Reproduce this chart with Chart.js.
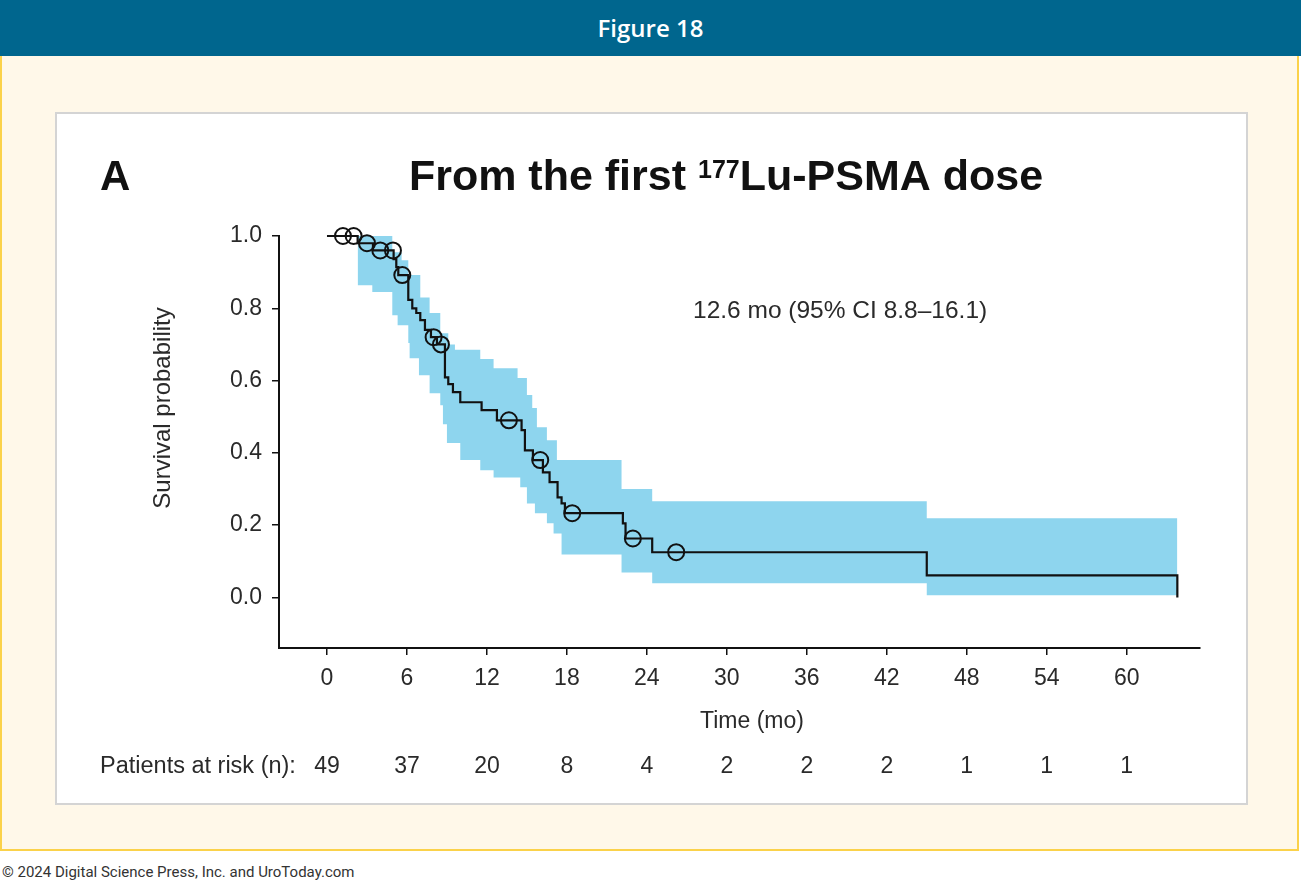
<!DOCTYPE html>
<html>
<head>
<meta charset="utf-8">
<title>Figure 18</title>
<script src="https://cdn.jsdelivr.net/npm/chart.js@4.4.1/dist/chart.umd.min.js"></script>
<style>
  html, body { margin: 0; padding: 0; background: #fff; }
  body { width: 1301px; height: 884px; position: relative; overflow: hidden; }
  #header {
    position: absolute; left: 0; top: 0; width: 1301px; height: 56px;
    background: #00668e; color: #fff; text-align: center;
    font: 600 24px "Open Sans", sans-serif; line-height: 56px;
  }
  #frame {
    position: absolute; left: 0; top: 56px; width: 1299px; height: 795px;
    box-sizing: border-box; background: #fff8e9;
    border: 2px solid #fbd24a; border-top: none;
  }
  #panel {
    position: absolute; left: 55px; top: 112px; width: 1193px; height: 693px;
    box-sizing: border-box; background: #fff; border: 2px solid #d4d4d4;
  }
  #km { position: absolute; left: 57px; top: 114px; }
  #footer {
    position: absolute; left: 2px; top: 863px; color: #333;
    font: 15px Roboto, sans-serif;
  }
</style>
</head>
<body>
<div id="header">Figure 18</div>
<div id="frame"></div>
<div id="panel"></div>
<canvas id="km" width="1189" height="689"></canvas>
<div id="footer">© 2024 Digital Science Press, Inc. and UroToday.com</div>

<script>
// Kaplan-Meier estimate (months, survival probability), value holds from each time on
const kmTimes = [0, 2.3, 3.45, 5.0, 5.2, 5.35, 6.1, 6.4, 6.7, 7.0, 7.35, 7.8, 8.25, 8.85, 9.1, 9.45,
  10.0, 11.6, 12.75, 14.6, 14.85, 15.45, 16.2, 16.7, 17.3, 17.6, 17.85, 22.2, 22.4, 24.4, 45.0, 63.8];
const kmSurv = [1.0, 0.98, 0.96, 0.936, 0.914, 0.892, 0.823, 0.80, 0.787, 0.767, 0.74, 0.72, 0.70, 0.609, 0.59, 0.568,
  0.54, 0.518, 0.49, 0.463, 0.407, 0.38, 0.346, 0.319, 0.277, 0.26, 0.233, 0.205, 0.163, 0.125, 0.061, 0.0];

// censored patients
const censorTimes = [1.2, 2.0, 3.0, 4.0, 4.95, 5.65, 8.0, 8.55, 13.65, 16.0, 18.4, 22.95, 26.2];
const censorSurv = [1.0, 1.0, 0.98, 0.96, 0.96, 0.892, 0.72, 0.70, 0.49, 0.38, 0.233, 0.163, 0.125];

// 95% confidence band
const bandTimes = [2.3, 3.4, 4.9, 5.3, 5.6, 6.1, 6.2, 6.9, 7.0, 7.7, 8.5, 8.7, 9.0, 9.1, 9.6, 10.0,
  11.5, 12.5, 14.3, 14.5, 15.0, 15.4, 15.6, 15.75, 16.5, 17.0, 17.25, 17.6, 22.1, 24.4, 45.0, 63.8];
const bandUpper = [1.0, 1.0, 0.955, 0.955, 0.933, 0.892, 0.892, 0.892, 0.83, 0.787, 0.731, 0.731, 0.731, 0.70, 0.685, 0.685,
  0.66, 0.634, 0.607, 0.607, 0.56, 0.524, 0.524, 0.471, 0.435, 0.435, 0.38, 0.38, 0.30, 0.266, 0.219, 0.219];
const bandLower = [0.864, 0.845, 0.781, 0.753, 0.753, 0.704, 0.662, 0.615, 0.615, 0.565, 0.532, 0.479, 0.427, 0.427, 0.427, 0.38,
  0.352, 0.332, 0.332, 0.305, 0.26, 0.26, 0.233, 0.233, 0.205, 0.177, 0.177, 0.119, 0.069, 0.039, 0.006, 0.006];

const xTicks = [0, 6, 12, 18, 24, 30, 36, 42, 48, 54, 60];
const yTicks = [0, 0.2, 0.4, 0.6, 0.8, 1.0];
const riskCounts = [49, 37, 20, 8, 4, 2, 2, 2, 1, 1, 1];

const FONT = '"Liberation Sans", Arial, sans-serif';
const TEXT = '#2a2a2a';

const pts = (xs, ys) => xs.map((x, i) => ({ x: x, y: ys[i] }));

const kmText = {
  id: 'kmText',
  afterDraw(chart) {
    const ctx = chart.ctx;
    const xs = chart.scales.x;
    ctx.save();

    // panel letter and title
    ctx.fillStyle = '#111';
    ctx.textBaseline = 'alphabetic';
    ctx.textAlign = 'left';
    ctx.font = 'bold 42px ' + FONT;
    ctx.fillText('A', 43, 76);

    const a = 'From the first ', sup = '177', b = 'Lu-PSMA dose';
    ctx.font = 'bold 43px ' + FONT;
    const wa = ctx.measureText(a).width, wb = ctx.measureText(b).width;
    ctx.font = 'bold 25px ' + FONT;
    const ws = ctx.measureText(sup).width;
    let x0 = 669 - (wa + ws + wb) / 2;
    ctx.font = 'bold 43px ' + FONT;
    ctx.fillText(a, x0, 76);
    ctx.font = 'bold 25px ' + FONT;
    ctx.fillText(sup, x0 + wa, 64);
    ctx.font = 'bold 43px ' + FONT;
    ctx.fillText(b, x0 + wa + ws, 76);

    // median annotation
    ctx.fillStyle = TEXT;
    ctx.font = '24.5px ' + FONT;
    ctx.textBaseline = 'middle';
    ctx.fillText('12.6 mo (95% CI 8.8\u201316.1)', 636, 197);

    // axis titles
    ctx.font = '23px ' + FONT;
    ctx.textAlign = 'center';
    ctx.fillText('Time (mo)', 695, 608);
    ctx.save();
    ctx.translate(106, 294);
    ctx.rotate(-Math.PI / 2);
    ctx.font = '24px ' + FONT;
    ctx.fillText('Survival probability', 0, 0);
    ctx.restore();

    // numbers at risk
    ctx.font = '23.5px ' + FONT;
    ctx.textAlign = 'left';
    ctx.fillText('Patients at risk (n):', 43, 653);
    ctx.font = '23px ' + FONT;
    ctx.textAlign = 'center';
    xTicks.forEach((t, i) => ctx.fillText(String(riskCounts[i]), xs.getPixelForValue(t), 653));

    ctx.restore();
  }
};

new Chart(document.getElementById('km'), {
  type: 'line',
  data: {
    datasets: [
      {
        label: 'Censored',
        data: pts(censorTimes, censorSurv),
        showLine: false,
        pointStyle: 'circle',
        pointRadius: 8,
        pointBorderWidth: 2,
        pointBorderColor: '#111',
        pointBackgroundColor: 'rgba(0,0,0,0)',
        clip: false
      },
      {
        label: 'KM',
        data: pts(kmTimes, kmSurv),
        stepped: true,
        borderColor: '#111',
        borderWidth: 2.2,
        pointRadius: 0,
        fill: false,
        clip: false
      },
      {
        label: 'Upper',
        data: pts(bandTimes, bandUpper),
        stepped: true,
        borderWidth: 0,
        borderColor: 'rgba(0,0,0,0)',
        pointRadius: 0,
        fill: false
      },
      {
        label: 'Lower',
        data: pts(bandTimes, bandLower),
        stepped: true,
        borderWidth: 0,
        borderColor: 'rgba(0,0,0,0)',
        backgroundColor: 'rgb(142, 213, 238)',
        pointRadius: 0,
        fill: '-1'
      }
    ]
  },
  options: {
    responsive: false,
    animation: false,
    devicePixelRatio: 1,
    layout: { padding: { top: 122, right: 46, left: 0, bottom: 0 } },
    plugins: { legend: { display: false }, tooltip: { enabled: false } },
    scales: {
      x: {
        type: 'linear',
        min: -3.6,
        max: 65.5,
        afterBuildTicks: (axis) => { axis.ticks = xTicks.map(v => ({ value: v })); },
        afterFit: (axis) => { axis.height = 155; },
        border: { display: true, color: '#111', width: 2 },
        grid: { display: true, drawOnChartArea: false, drawTicks: true, tickLength: 7, color: '#111', lineWidth: 1.5 },
        ticks: { color: TEXT, font: { family: FONT, size: 23 }, padding: 10, maxRotation: 0, autoSkip: false }
      },
      y: {
        min: -0.14,
        max: 1.0,
        afterBuildTicks: (axis) => { axis.ticks = yTicks.map(v => ({ value: v })); },
        afterFit: (axis) => { axis.width = 222; },
        border: { display: true, color: '#111', width: 2 },
        grid: { display: true, drawOnChartArea: false, drawTicks: true, tickLength: 7, color: '#111', lineWidth: 1.5 },
        ticks: { color: TEXT, font: { family: FONT, size: 23 }, padding: 10, callback: (v) => v.toFixed(1) }
      }
    }
  },
  plugins: [kmText]
});
</script>
</body>
</html>
